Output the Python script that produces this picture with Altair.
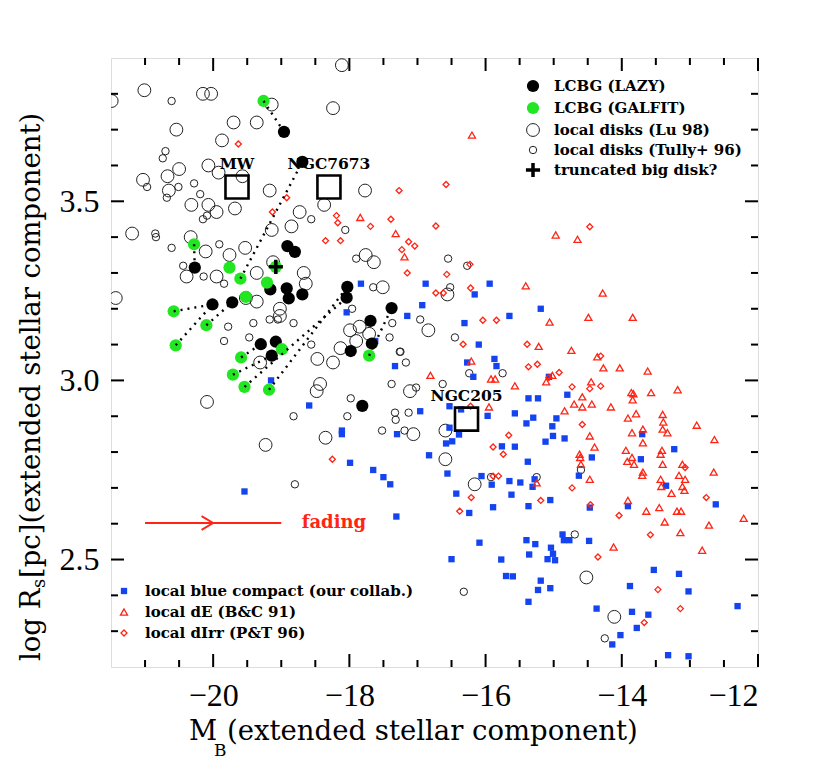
import altair as alt
import pandas as pd

W, H = 647, 609
X_DOMAIN = [-21.5, -12.0]
Y_DOMAIN = [2.2, 3.9]

# ---------------- data ----------------
lazy_x = [-18.96, -18.69, -20.27, -18.91, -18.80, -20.01, -19.72, -19.16, -18.92, -18.89, -18.69,
          -19.30, -19.08, -19.14, -18.03, -18.04, -17.69, -17.38, -17.67, -17.98, -17.81]
lazy_y = [3.694, 3.61, 3.315, 3.375, 3.359, 3.212, 3.218, 3.254, 3.257, 3.229, 3.240,
          3.101, 3.108, 3.069, 3.261, 3.231, 3.166, 3.202, 3.103, 3.082, 2.929]

galfit_x = [-19.26, -20.28, -19.76, -19.60, -19.21, -19.08, -19.52, -20.58, -20.10, -20.55, -19.59,
            -18.99, -19.71, -19.54, -19.18, -17.71]
galfit_y = [3.78, 3.380, 3.315, 3.284, 3.273, 3.317, 3.233, 3.193, 3.154, 3.098, 3.064,
            3.087, 3.016, 2.982, 2.974, 3.069]

pair_galfit = [0, 1, 7, 9, 8, 3, 10, 12, 13, 14, 15]
pair_lazy = [0, 2, 5, 5, 6, 1, 11, 13, 15, 14, 17]

truncated_x = [-19.08]
truncated_y = [3.317]

lu_x = [-18.11, -21.01, -20.15, -20.03, -21.49, -19.14, -18.24, -19.70, -19.36, -20.54, -19.87, -20.50,
        -20.07, -19.92, -20.67, -21.03, -20.65, -19.57, -19.17, -17.77, -20.32, -20.07, -19.95, -19.68,
        -18.37, -18.73, -19.14, -18.85, -21.19, -20.33,
        -20.11, -19.76, -19.53, -20.39, -19.95, -21.43, -19.36, -19.12, -18.67, -18.64, -17.76, -17.64,
        -17.51, -19.36, -19.02, -19.02, -18.47, -18.24, -18.13, -17.99, -17.85, -17.90, -17.71, -19.31,
        -18.43, -18.48, -20.09, -18.35, -19.23, -19.52,
        -16.56, -16.84, -17.11, -17.06, -16.59, -16.59, -16.16, -14.52, -14.11]
lu_y = [3.88, 3.81, 3.80, 3.80, 3.78, 3.77, 3.76, 3.72, 3.72, 3.70, 3.67, 3.59,
        3.60, 3.58, 3.57, 3.56, 3.53, 3.57, 3.53, 3.53, 3.49, 3.49, 3.47, 3.48,
        3.49, 3.47, 3.42, 3.43, 3.41, 3.40,
        3.36, 3.35, 3.37, 3.29, 3.29, 3.23, 3.30, 3.33, 3.30, 3.27, 3.35, 3.33,
        3.26, 3.22, 3.20, 3.18, 3.06, 3.05, 3.09, 3.14, 3.15, 3.11, 3.13, 3.05,
        2.99, 2.97, 2.94, 2.84, 2.82, 3.23,
        3.24, 3.14, 2.97, 2.85, 2.86, 2.78, 2.71, 2.45, 2.34]

tully_x = [-20.61, -20.70, -20.74, -20.97, -20.51, -20.68, -20.28, -20.19, -20.15, -20.09, -18.56,
           -18.06, -20.85, -20.84,
           -20.61, -19.91, -20.44, -20.14, -19.84, -17.90, -17.65, -17.96, -19.05, -19.17, -19.41,
           -19.78, -19.84, -19.47, -18.82, -18.56, -17.41, -17.37, -17.26, -18.82, -17.98, -18.03,
           -17.52, -17.33, -17.32, -17.38,
           -16.55, -16.27, -16.52, -16.96, -16.45, -17.25, -17.17, -15.75, -16.24, -16.63, -17.02,
           -17.13, -17.19, -15.92, -15.25, -14.60, -14.69, -14.25, -16.32, -18.80]
tully_y = [3.78, 3.64, 3.62, 3.54, 3.54, 3.51, 3.55, 3.52, 3.45, 3.46, 3.45,
           3.42, 3.41, 3.40,
           3.37, 3.38, 3.32, 3.29, 3.27, 3.34, 3.26, 3.20, 3.17, 3.17, 3.16,
           3.15, 3.11, 3.12, 3.16, 3.10, 3.12, 3.16, 3.08, 2.90, 2.95, 2.90,
           2.86, 2.91, 2.89, 2.99,
           3.34, 3.32, 3.26, 3.17, 3.12, 3.08, 3.05, 3.02, 3.02, 2.99, 2.98,
           2.91, 2.86, 2.73, 2.73, 2.75, 2.57, 2.28, 2.41, 2.71]

bcd_x = [-17.83, -18.04, -17.62, -17.33, -19.15, -18.59, -18.11, -18.11, -17.99, -17.65, -17.50, -17.30,
         -16.88, -15.94, -16.16, -16.93, -17.15, -15.65, -15.19, -16.31, -16.10, -15.87, -16.27, -15.84,
         -16.18, -15.07, -14.80, -15.37, -15.23,
         -16.96, -16.53, -16.36, -15.97, -15.57, -15.30, -15.40, -15.02, -14.96, -16.53, -16.39, -16.58,
         -16.49, -16.83, -15.76, -15.57, -15.12, -15.01, -14.84, -13.70, -14.44, -13.23, -13.72, -15.38,
         -16.56, -16.06, -15.91, -15.65, -15.49, -15.28, -15.31, -14.63, -16.43, -15.62, -15.05, -13.35,
         -12.62, -16.24, -15.89, -15.37, -14.47, -13.91, -16.09, -15.40, -15.27, -14.87, -14.85, -14.77,
         -14.48, -15.04, -15.01, -15.36, -15.09, -14.98, -16.50, -15.77, -15.70, -15.60, -15.19, -15.23,
         -15.05, -15.37, -13.53, -13.16, -13.02, -13.88, -14.37, -13.85, -13.61, -13.78, -14.02, -14.14,
         -13.32, -13.02,
         -19.54, -17.40, -17.31, -12.30]
bcd_y = [3.27, 3.19, 3.11, 3.04, 3.00, 2.93, 2.86, 2.85, 2.77, 2.75, 2.73, 2.85,
         3.27, 3.27, 3.24, 3.21, 3.18, 3.18, 3.20, 3.16, 3.10, 3.06, 3.05, 3.04,
         3.01, 3.01, 2.96, 2.95, 2.95,
         2.914, 2.928, 2.919, 2.901, 2.908, 2.896, 2.880, 2.872, 2.894, 2.868, 2.849, 2.824,
         2.830, 2.791, 2.816, 2.815, 2.829, 2.845, 2.838, 2.850, 2.785, 2.808, 2.780, 2.773,
         2.740, 2.733, 2.709, 2.719, 2.715, 2.724, 2.703, 2.734, 2.684, 2.681, 2.666, 2.706,
         2.654, 2.630, 2.646, 2.649, 2.645, 2.649, 2.547, 2.554, 2.543, 2.570, 2.554, 2.554,
         2.552, 2.533, 2.516, 2.514, 2.501, 2.498, 2.501, 2.500, 2.454, 2.453, 2.441, 2.415,
         2.420, 2.382, 2.471, 2.460, 2.411, 2.426, 2.363, 2.354, 2.346, 2.309, 2.289, 2.263,
         2.233, 2.230,
         2.69, 2.71, 2.62, 2.37]

de_x = [-17.84, -17.32, -16.20,
        -17.19, -14.97, -14.65, -15.41, -14.28, -15.06, -14.49, -13.84, -15.22, -14.74, -14.36, -16.21,
        -16.81, -15.92, -15.86, -15.57, -15.11, -15.02, -14.27, -14.03, -13.62, -14.45, -14.58, -13.86,
        -13.83, -13.84, -13.57, -13.18,
        -14.70, -14.58, -14.44, -14.84, -14.16, -15.95, -13.91, -13.79, -13.40, -13.39, -13.40, -13.33,
        -12.90, -13.85, -14.47, -13.69, -13.69, -12.64, -14.40, -13.94, -13.41, -13.43, -14.62, -14.61,
        -14.60, -13.85, -13.92, -13.82, -13.40, -13.11, -13.69, -13.70, -13.16, -13.07, -12.65, -14.47,
        -13.43, -13.42, -13.11, -13.08, -13.27, -15.25, -13.91, -13.45, -13.64, -13.19, -13.13, -13.37,
        -12.72, -13.14, -14.12, -12.82,
        -12.21]
de_y = [3.455, 3.41, 3.685,
        3.345, 3.406, 3.394, 3.264, 3.244, 3.163, 3.176, 3.176, 3.095, 3.084, 3.066, 3.054,
        3.014, 3.004, 3.004, 2.985, 2.996, 3.014, 3.035, 3.035, 3.026, 2.996, 2.954, 2.966,
        2.963, 2.946, 2.966, 2.974,
        2.934, 2.926, 2.934, 2.915, 2.926, 2.926, 2.895, 2.907, 2.905, 2.884, 2.864, 2.854,
        2.875, 2.854, 2.845, 2.864, 2.826, 2.835, 2.814, 2.805, 2.805, 2.794, 2.794, 2.785,
        2.766, 2.785, 2.774, 2.766, 2.766, 2.766, 2.744, 2.735, 2.735, 2.724, 2.744, 2.724,
        2.724, 2.704, 2.704, 2.693, 2.685, 2.714, 2.665, 2.645, 2.635, 2.635, 2.635, 2.605,
        2.596, 2.575, 2.535, 2.526,
        2.615]

dirr_x = [-19.63, -18.92, -19.13, -18.19, -18.17, -17.69, -17.27, -17.39,
          -18.25, -18.35, -18.13,
          -16.58, -16.73, -17.23, -17.13, -17.04, -17.15, -14.47, -16.23, -16.57, -16.22, -16.73,
          -16.62, -16.04, -15.84, -16.33, -15.39, -15.37, -15.24, -14.92, -15.07, -14.31, -14.73,
          -14.47, -14.31,
          -16.22, -14.58, -15.66, -15.89, -15.74, -13.07, -15.89, -15.81, -14.73, -16.21, -16.38,
          -15.19, -14.46, -14.04, -12.76, -13.58, -14.35, -13.47, -13.14, -13.67]
dirr_y = [3.66, 3.51, 3.47, 3.46, 3.44, 3.43, 3.53, 3.45,
          2.78, 3.39, 3.39,
          3.547, 3.431, 3.365, 3.387, 3.375, 3.300, 3.429, 3.324, 3.296, 3.258, 3.244,
          3.244, 3.168, 3.168, 3.101, 3.101, 3.038, 3.045, 3.022, 3.008, 3.068, 2.982,
          2.977, 2.984,
          2.928, 2.877, 2.847, 2.814, 2.794, 2.757, 2.733, 2.733, 2.700, 2.673, 2.635,
          2.665, 2.653, 2.623, 2.673, 2.569, 2.507, 2.416, 2.363, 2.324]

ref_names = ["MW", "NGC7673", "NGC205"]
ref_x = [-19.65, -18.30, -16.28]
ref_y = [3.54, 3.54, 2.892]

fading_x = [-21.0, -19.0]
fading_head_x = -20.0
fading_y = 2.602

x_major = [-20, -18, -16, -14, -12]
x_minor = [-21.0, -20.5, -19.5, -19.0, -18.5, -17.5, -17.0, -16.5, -15.5, -15.0, -14.5, -13.5, -13.0, -12.5]
y_major = [2.5, 3.0, 3.5]
y_minor = [2.3, 2.4, 2.6, 2.7, 2.8, 2.9, 3.1, 3.2, 3.3, 3.4, 3.6, 3.7, 3.8]

legend_top = ["LCBG (LAZY)", "LCBG (GALFIT)", "local disks (Lu 98)", "local disks (Tully+ 96)",
              "truncated big disk?"]
legend_bottom = ["local blue compact (our collab.)", "local dE (B&C 91)", "local dIrr (P&T 96)"]

# ---------------- styling ----------------
BLUE = "#1444f0"
RED = "#ff2414"
GREEN = "#22e622"
SERIF = "Liberation Serif"
TFONT = "DejaVu Serif"
LFONT = "DejaVu Serif"
PLUS = "M-1,0L1,0M0,-1L0,1"

xs = alt.Scale(domain=X_DOMAIN, nice=False, zero=False)
ys = alt.Scale(domain=Y_DOMAIN, nice=False, zero=False)
xaxis = alt.Axis(values=x_major, format="d", labelFont=SERIF, labelFontSize=32, labelColor="black",
                 ticks=False, domain=False, grid=False, title=None, labelPadding=13)
yaxis = alt.Axis(values=y_major, format=".1f", labelFont=SERIF, labelFontSize=32, labelColor="black",
                 ticks=False, domain=False, grid=False, title=None, labelPadding=12)


def XE(f="x"):
    return alt.X(f"{f}:Q", scale=xs, axis=xaxis)


def YE(f="y"):
    return alt.Y(f"{f}:Q", scale=ys, axis=yaxis)


def scatter(xv, yv, **mark):
    return alt.Chart(pd.DataFrame({"x": xv, "y": yv})).mark_point(clip=True, **mark).encode(x=XE(), y=YE())


layers = []
layers.append(scatter(lu_x, lu_y, shape="circle", size=165, filled=False, color="#222", strokeWidth=1, opacity=1))
layers.append(scatter(tully_x, tully_y, shape="circle", size=55, filled=False, color="#222", strokeWidth=1, opacity=1))
layers.append(scatter(bcd_x, bcd_y, shape="square", size=40, filled=True, color=BLUE, opacity=1))
layers.append(scatter(de_x, de_y, shape="triangle-up", size=50, filled=False, color=RED, strokeWidth=1.3, opacity=1))
layers.append(scatter(dirr_x, dirr_y, shape="diamond", size=36, filled=False, color=RED, strokeWidth=1.3, opacity=1))

ref_df = pd.DataFrame({"x": ref_x, "y": ref_y, "name": ref_names})
layers.append(alt.Chart(ref_df).mark_point(shape="square", size=530, filled=False, color="black",
                                           strokeWidth=2.6, opacity=1).encode(x=XE(), y=YE()))
layers.append(alt.Chart(ref_df).mark_text(font=LFONT, fontSize=15.5, fontWeight="bold", color="black",
                                          dy=-23, baseline="middle").encode(x=XE(), y=YE(), text="name:N"))

layers.append(scatter(lazy_x, lazy_y, shape="circle", size=150, filled=True, color="black", opacity=1))
layers.append(scatter(galfit_x, galfit_y, shape="circle", size=150, filled=True, color=GREEN, opacity=1))

pairs = pd.DataFrame({
    "x": [galfit_x[i] for i in pair_galfit], "y": [galfit_y[i] for i in pair_galfit],
    "x2": [lazy_x[j] for j in pair_lazy], "y2": [lazy_y[j] for j in pair_lazy]})
layers.append(alt.Chart(pairs).mark_rule(color="black", strokeWidth=2.4, strokeDash=[2, 5]).encode(
    x=XE(), y=YE(), x2="x2:Q", y2="y2:Q"))

layers.append(scatter(truncated_x, truncated_y, shape=PLUS, size=200, filled=False, color="black",
                      strokeWidth=3.5, opacity=1))

# fading arrow
arrow = pd.DataFrame({"x": [fading_x[0], fading_head_x - 0.17, fading_head_x - 0.17],
                      "y": [fading_y, fading_y + 0.019, fading_y - 0.019],
                      "x2": [fading_x[1], fading_head_x, fading_head_x],
                      "y2": [fading_y, fading_y, fading_y]})
layers.append(alt.Chart(arrow).mark_rule(color=RED, strokeWidth=2).encode(x=XE(), y=YE(), x2="x2:Q", y2="y2:Q"))
layers.append(alt.Chart(pd.DataFrame({"x": [-18.70], "y": [fading_y]})).mark_text(
    text="fading", font=LFONT, fontSize=18, fontWeight="bold", color=RED, align="left", baseline="middle"
).encode(x=XE(), y=YE()))

# inward ticks on all four sides
for vals, L in ((x_major, 13), (x_minor, 7)):
    d = pd.DataFrame({"x": vals})
    layers.append(alt.Chart(d).mark_rule(color="black", strokeWidth=2).encode(
        x=XE(), y=alt.value(H), y2=alt.value(H - L)))
    layers.append(alt.Chart(d).mark_rule(color="black", strokeWidth=2).encode(
        x=XE(), y=alt.value(0), y2=alt.value(L)))
for vals, L in ((y_major, 13), (y_minor, 7)):
    d = pd.DataFrame({"y": vals})
    layers.append(alt.Chart(d).mark_rule(color="black", strokeWidth=2).encode(
        y=YE(), x=alt.value(0), x2=alt.value(L)))
    layers.append(alt.Chart(d).mark_rule(color="black", strokeWidth=2).encode(
        y=YE(), x=alt.value(W), x2=alt.value(W - L)))

one = pd.DataFrame({"a": [0]})

# top-right legend
top_rows = [28, 50, 72, 92, 112]
top_marks = [dict(shape="circle", size=150, filled=True, color="black"),
             dict(shape="circle", size=150, filled=True, color=GREEN),
             dict(shape="circle", size=165, filled=False, color="#222", strokeWidth=1),
             dict(shape="circle", size=55, filled=False, color="#222", strokeWidth=1),
             dict(shape=PLUS, size=200, filled=False, color="black", strokeWidth=3.5)]
for lab, yy, mk in zip(legend_top, top_rows, top_marks):
    layers.append(alt.Chart(one).mark_point(opacity=1, **mk).encode(x=alt.value(422), y=alt.value(yy)))
    layers.append(alt.Chart(one).mark_text(text=lab, font=LFONT, fontSize=15, fontWeight="bold",
                                           color="black", align="left", baseline="middle").encode(
        x=alt.value(443), y=alt.value(yy)))

# bottom-left legend
bot_rows = [533, 554, 575]
bot_marks = [dict(shape="square", size=40, filled=True, color=BLUE),
             dict(shape="triangle-up", size=50, filled=False, color=RED, strokeWidth=1.3),
             dict(shape="diamond", size=36, filled=False, color=RED, strokeWidth=1.3)]
for lab, yy, mk in zip(legend_bottom, bot_rows, bot_marks):
    layers.append(alt.Chart(one).mark_point(opacity=1, **mk).encode(x=alt.value(13), y=alt.value(yy)))
    layers.append(alt.Chart(one).mark_text(text=lab, font=LFONT, fontSize=15, fontWeight="bold",
                                           color="black", align="left", baseline="middle").encode(
        x=alt.value(34), y=alt.value(yy)))

# axis titles with subscripts
TS = 27.5
layers.append(alt.Chart(one).mark_text(text="M", font=TFONT, fontSize=TS, align="left", baseline="alphabetic",
                                       color="black").encode(x=alt.value(78), y=alt.value(682)))
layers.append(alt.Chart(one).mark_text(text="B", font=TFONT, fontSize=17, align="left", baseline="alphabetic",
                                       color="black").encode(x=alt.value(103), y=alt.value(698)))
layers.append(alt.Chart(one).mark_text(text="(extended stellar component)", font=TFONT, fontSize=TS,
                                       align="left", baseline="alphabetic", color="black").encode(
    x=alt.value(116), y=alt.value(682)))

layers.append(alt.Chart(one).mark_text(text="log R", font=TFONT, fontSize=TS, angle=270, align="left",
                                       baseline="middle", color="black").encode(x=alt.value(-79), y=alt.value(603)))
layers.append(alt.Chart(one).mark_text(text="s", font=TFONT, fontSize=18, angle=270, align="left",
                                       baseline="middle", color="black").encode(x=alt.value(-71), y=alt.value(530)))
layers.append(alt.Chart(one).mark_text(text="[pc](extended stellar component)", font=TFONT, fontSize=TS,
                                       angle=270, align="left", baseline="middle", color="black").encode(
    x=alt.value(-79), y=alt.value(520)))

chart = alt.layer(*layers).properties(
    width=W, height=H, autosize=alt.AutoSizeParams(type="none"),
    padding={"left": 103, "top": 50, "right": 64, "bottom": 100}
).configure_view(stroke="black", strokeWidth=2.6).configure(background="white")

chart.save("out.html", embed_options={"renderer": "svg", "actions": False})
